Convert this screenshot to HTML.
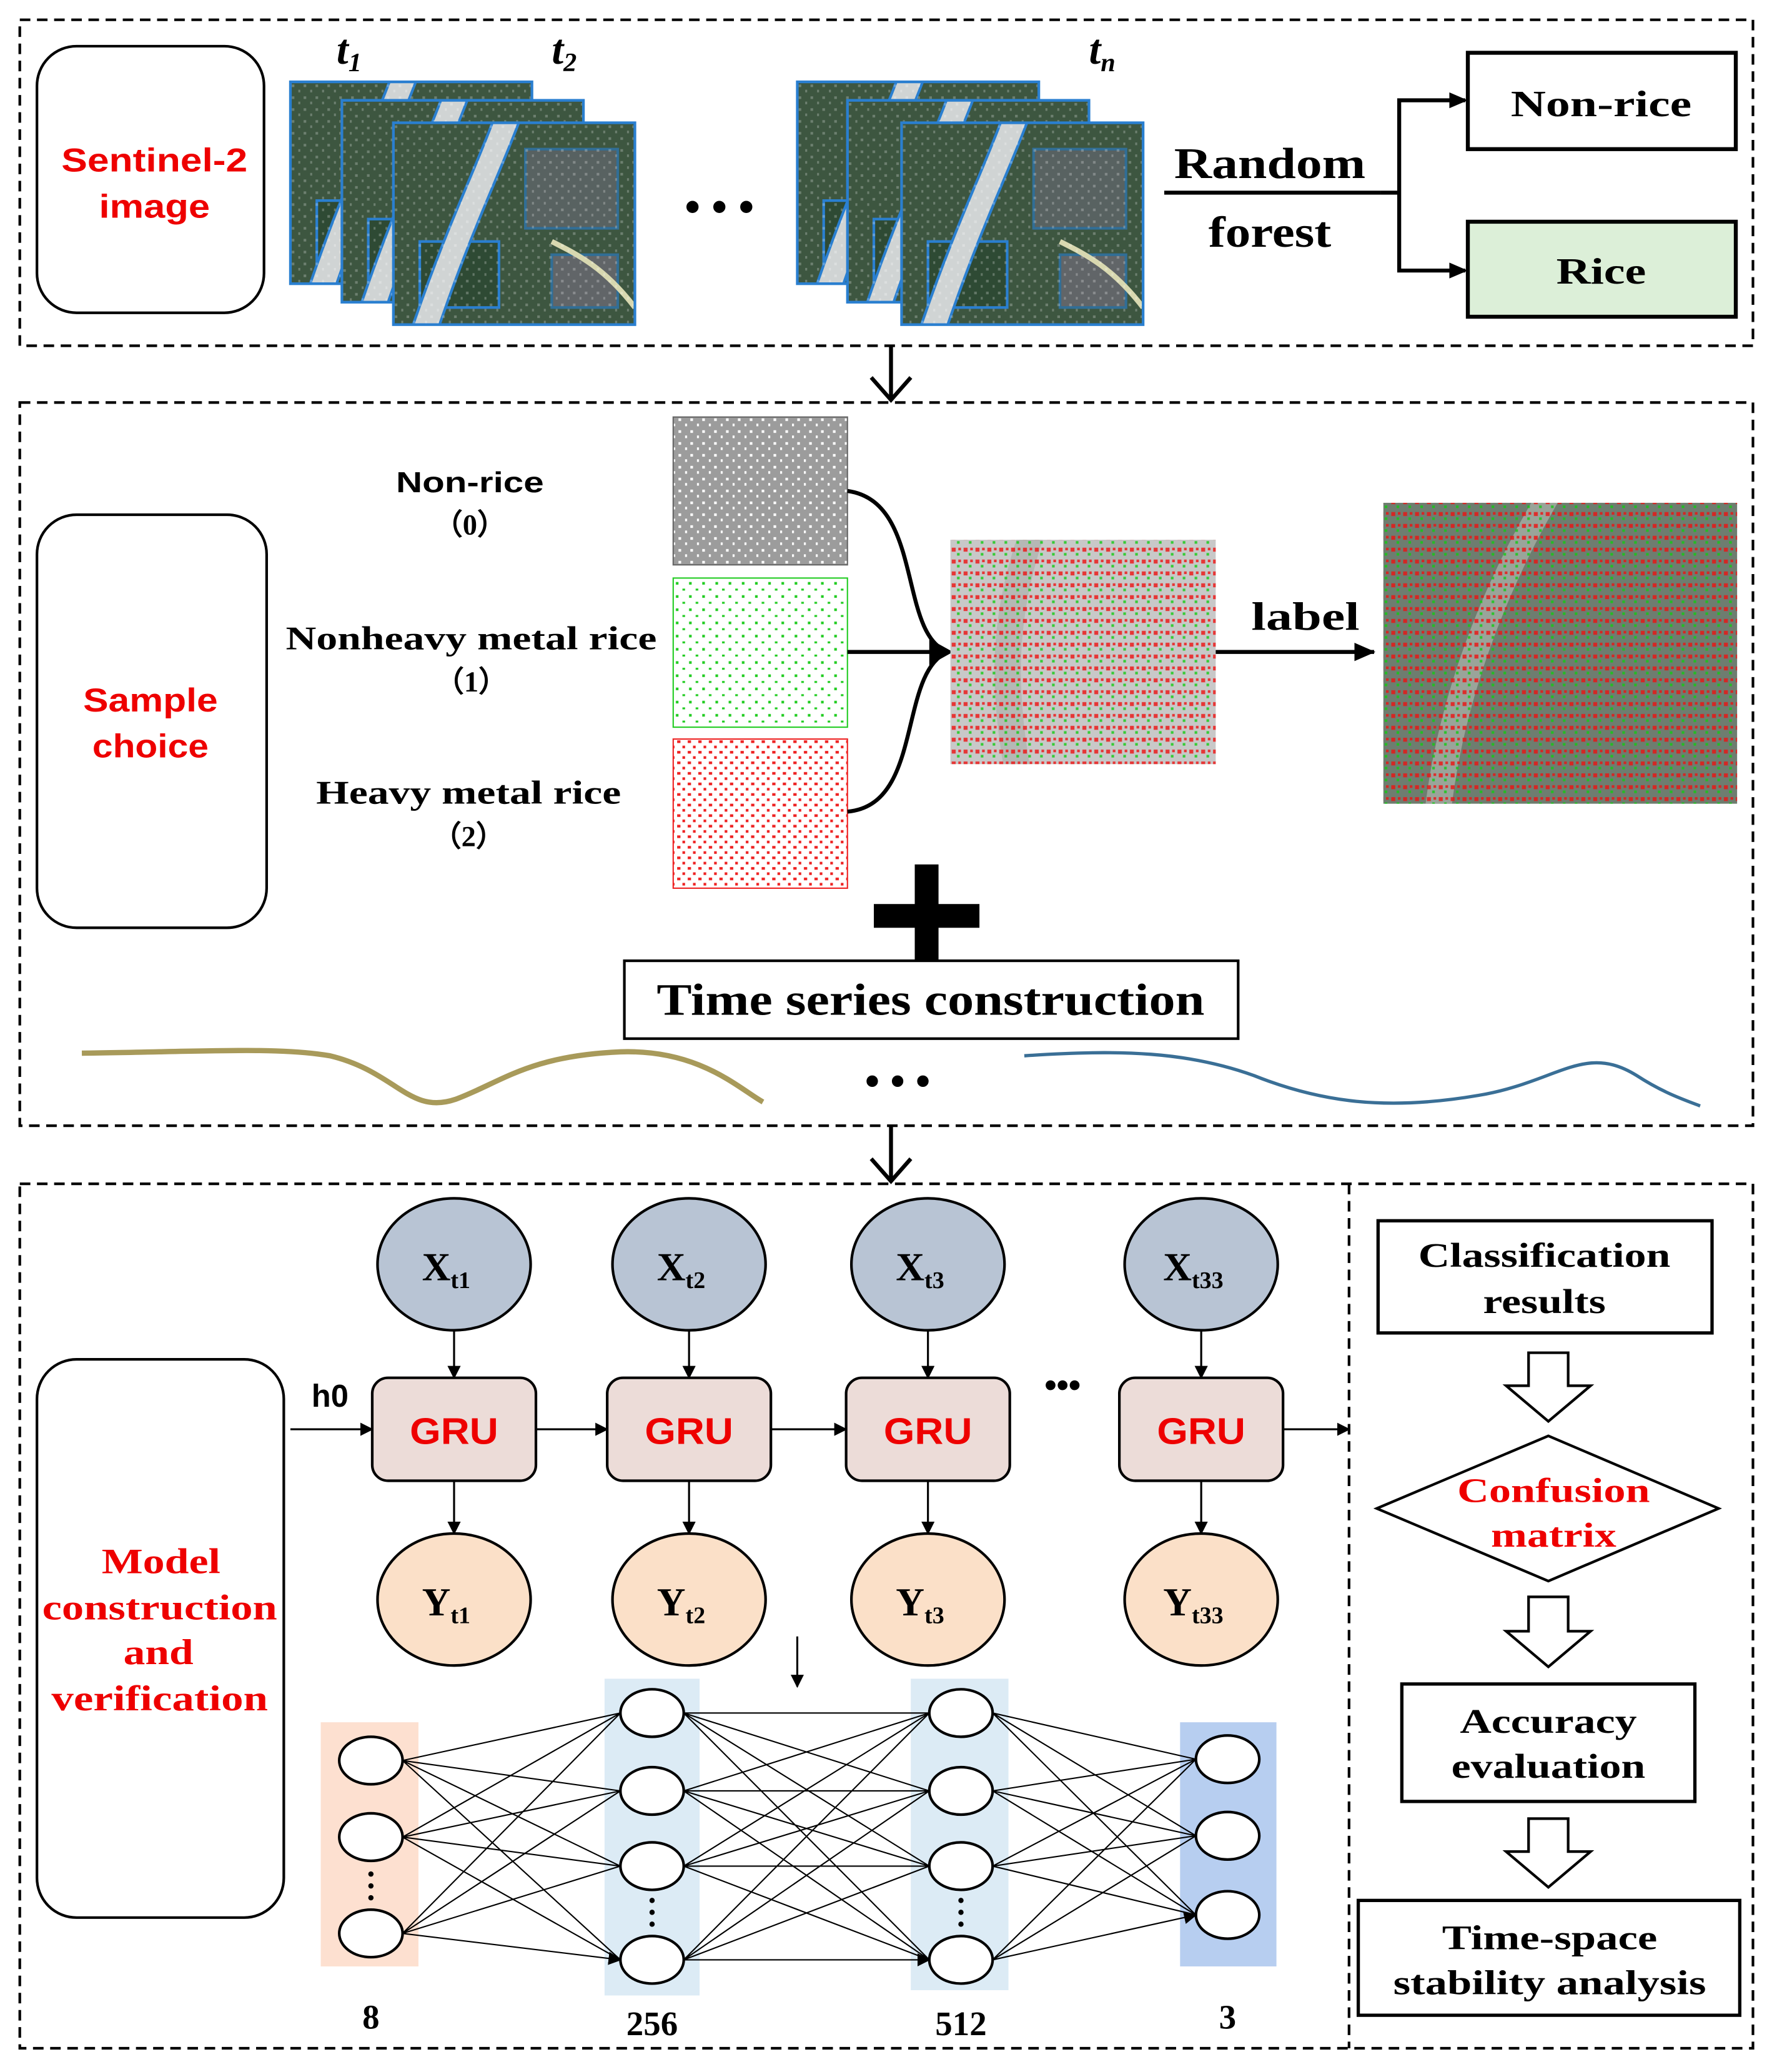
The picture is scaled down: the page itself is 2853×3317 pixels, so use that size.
<!DOCTYPE html>
<html><head><meta charset="utf-8"><style>
html,body{margin:0;padding:0;background:#fff;}
svg{display:block;}
.serif{font-family:"Liberation Serif",serif;font-weight:bold;}
.sans{font-family:"Liberation Sans",sans-serif;font-weight:bold;}
</style></head><body>
<svg width="2853" height="3317" viewBox="0 0 1350 1570" preserveAspectRatio="none" xmlns="http://www.w3.org/2000/svg">
<defs>
<marker id="ah" markerWidth="10" markerHeight="10" refX="9" refY="5" orient="auto" markerUnits="userSpaceOnUse"><path d="M0,0 L10,5 L0,10 z" fill="#000"/></marker>
<marker id="ahb" markerWidth="16" markerHeight="14" refX="15" refY="7" orient="auto" markerUnits="userSpaceOnUse"><path d="M0,0 L16,7 L0,14 z" fill="#000"/></marker>
<pattern id="pw" width="9" height="9" patternUnits="userSpaceOnUse"><rect x="1" y="2" width="2" height="2" fill="#fff"/><rect x="6" y="6" width="1.5" height="2" fill="#fff"/></pattern>
<pattern id="pg" width="10" height="10" patternUnits="userSpaceOnUse"><rect x="2" y="1" width="2" height="2" fill="#2c2"/><rect x="7" y="6" width="2" height="1.5" fill="#2c2"/></pattern>
<pattern id="pr" width="8" height="8" patternUnits="userSpaceOnUse"><rect x="1" y="1" width="2.5" height="2" fill="#e22"/><rect x="5" y="5" width="2" height="2" fill="#e22"/></pattern>
<pattern id="prg" width="9" height="9" patternUnits="userSpaceOnUse"><rect x="1" y="1" width="3" height="3" fill="#e11"/><rect x="5" y="5" width="2" height="2" fill="#1c1"/><rect x="6" y="1" width="2" height="2" fill="#e11"/></pattern>
<symbol id="sat" viewBox="0 0 183 153">
<rect width="183" height="153" fill="#3d5640"/>
<rect x="100" y="20" width="70" height="60" fill="#6a6a78" opacity="0.6"/>
<rect x="20" y="90" width="60" height="50" fill="#2e4a34"/>
<rect x="120" y="100" width="50" height="40" fill="#7a7084" opacity="0.6"/>
<path d="M95,0 C80,40 60,80 35,153 L15,153 C40,80 60,40 75,0 z" fill="#d0d4d4"/>
<path d="M120,90 C140,100 160,110 183,140" stroke="#d8d8b0" stroke-width="4" fill="none"/>
<rect width="183" height="153" fill="url(#pw)" opacity="0.25"/>
</symbol>
</defs>

<g fill="none" stroke="#000" stroke-width="2" stroke-dasharray="8,5">
<rect x="15" y="15" width="1313" height="247"/>
<rect x="15" y="305" width="1313" height="548"/>
<rect x="15" y="897" width="1313" height="655"/>
<line x1="1022" y1="897" x2="1022" y2="1552"/>
</g>

<!-- Section 1 -->
<rect x="28" y="35" width="172" height="202" rx="30" fill="none" stroke="#000" stroke-width="2"/>
<text x="117" y="130" class="sans" font-size="25" fill="#e00" text-anchor="middle" textLength="141" lengthAdjust="spacingAndGlyphs">Sentinel-2</text>
<text x="117" y="165" class="sans" font-size="25" fill="#e00" text-anchor="middle" textLength="84" lengthAdjust="spacingAndGlyphs">image</text>
<g stroke="#2a7fd0" stroke-width="2">
<use href="#sat" x="220" y="62" width="183" height="153"/><rect x="220" y="62" width="183" height="153" fill="none"/>
<use href="#sat" x="259" y="76" width="183" height="153"/><rect x="259" y="76" width="183" height="153" fill="none"/>
<use href="#sat" x="298" y="93" width="183" height="153"/><rect x="298" y="93" width="183" height="153" fill="none"/>
<use href="#sat" x="604" y="62" width="183" height="153"/><rect x="604" y="62" width="183" height="153" fill="none"/>
<use href="#sat" x="642" y="76" width="183" height="153"/><rect x="642" y="76" width="183" height="153" fill="none"/>
<use href="#sat" x="683" y="93" width="183" height="153"/><rect x="683" y="93" width="183" height="153" fill="none"/>
</g>
<text x="255" y="48" class="serif" font-style="italic" font-size="32">t<tspan font-size="20" dy="6">1</tspan></text>
<text x="418" y="48" class="serif" font-style="italic" font-size="32">t<tspan font-size="20" dy="6">2</tspan></text>
<text x="825" y="48" class="serif" font-style="italic" font-size="32">t<tspan font-size="20" dy="6">n</tspan></text>
<text x="545" y="168" class="serif" font-size="34" text-anchor="middle">• • •</text>
<text x="962" y="135" class="serif" font-size="33" text-anchor="middle" textLength="145" lengthAdjust="spacingAndGlyphs">Random</text>
<line x1="882" y1="146" x2="1046" y2="146" stroke="#000" stroke-width="3"/>
<text x="962" y="187" class="serif" font-size="33" text-anchor="middle" textLength="93" lengthAdjust="spacingAndGlyphs">forest</text>
<path d="M1046,146 H1060 V76 H1110 M1060,146 V205 H1110" fill="none" stroke="#000" stroke-width="3"/>
<path d="M1098,70 L1112,76 L1098,82z M1098,199 L1112,205 L1098,211z" fill="#000"/>
<rect x="1112" y="40" width="203" height="73" fill="#fff" stroke="#000" stroke-width="3"/>
<text x="1213" y="88" class="serif" font-size="28" text-anchor="middle" textLength="137" lengthAdjust="spacingAndGlyphs">Non-rice</text>
<rect x="1112" y="168" width="203" height="72" fill="#dcefd8" stroke="#000" stroke-width="3"/>
<text x="1213" y="215" class="serif" font-size="28" text-anchor="middle" textLength="68" lengthAdjust="spacingAndGlyphs">Rice</text>
<path d="M675,262 V303 M660,286 L675,303 L690,286" fill="none" stroke="#000" stroke-width="3"/>

<!-- Section 2 -->
<rect x="28" y="390" width="174" height="313" rx="30" fill="none" stroke="#000" stroke-width="2"/>
<text x="114" y="539" class="sans" font-size="25" fill="#e00" text-anchor="middle" textLength="102" lengthAdjust="spacingAndGlyphs">Sample</text>
<text x="114" y="574" class="sans" font-size="25" fill="#e00" text-anchor="middle" textLength="88" lengthAdjust="spacingAndGlyphs">choice</text>
<text x="356" y="373" class="sans" font-size="22" text-anchor="middle" textLength="112" lengthAdjust="spacingAndGlyphs">Non-rice</text>
<text x="356" y="405" class="serif" font-size="22" text-anchor="middle">（0）</text>
<text x="357" y="492" class="serif" font-size="25" text-anchor="middle" textLength="281" lengthAdjust="spacingAndGlyphs">Nonheavy metal rice</text>
<text x="357" y="524" class="serif" font-size="22" text-anchor="middle">（1）</text>
<text x="355" y="609" class="serif" font-size="25" text-anchor="middle" textLength="231" lengthAdjust="spacingAndGlyphs">Heavy metal rice</text>
<text x="355" y="641" class="serif" font-size="22" text-anchor="middle">（2）</text>
<rect x="510" y="316" width="132" height="112" fill="#9c9c9c"/><rect x="510" y="316" width="132" height="112" fill="url(#pw)" stroke="#666"/>
<rect x="510" y="438" width="132" height="113" fill="#fff"/><rect x="510" y="438" width="132" height="113" fill="url(#pg)" stroke="#2c2"/>
<rect x="510" y="560" width="132" height="113" fill="#fff"/><rect x="510" y="560" width="132" height="113" fill="url(#pr)" stroke="#e22"/>
<path d="M642,372 C700,380 680,480 718,494 M642,494 H718 M642,615 C700,610 680,510 718,494" fill="none" stroke="#000" stroke-width="3"/>
<path d="M704,484 L722,494 L704,504z" fill="#000"/>
<rect x="720" y="409" width="201" height="170" fill="#c8c8c8"/>
<path d="M790,409 C770,470 770,520 780,579 L760,579 C750,520 750,470 770,409z" fill="#b5b8b5"/>
<rect x="720" y="409" width="201" height="170" fill="url(#prg)" opacity="0.8"/>
<line x1="921" y1="494" x2="1041" y2="494" stroke="#000" stroke-width="3" marker-end="url(#ahb)"/>
<text x="989" y="477" class="serif" font-size="30" text-anchor="middle" textLength="82" lengthAdjust="spacingAndGlyphs">label</text>
<rect x="1048" y="381" width="268" height="228" fill="#6e7d70"/>
<path d="M1180,381 C1140,450 1110,530 1100,609 L1080,609 C1090,530 1120,450 1160,381z" fill="#9aa49a"/>
<rect x="1048" y="381" width="268" height="228" fill="url(#prg)" opacity="0.8"/>
<rect x="662" y="685" width="80" height="18" fill="#000"/>
<rect x="693" y="655" width="18" height="78" fill="#000"/>
<rect x="473" y="728" width="465" height="59" fill="#fff" stroke="#000" stroke-width="2"/>
<text x="705" y="769" class="serif" font-size="34" text-anchor="middle" textLength="415" lengthAdjust="spacingAndGlyphs">Time series construction</text>
<path d="M62,798 C150,797 210,793 250,800 C300,812 310,845 345,833 C380,820 400,800 470,797 C530,795 560,825 578,835" fill="none" stroke="#a89a5a" stroke-width="4"/>
<text x="680" y="830" class="serif" font-size="32" text-anchor="middle">• • •</text>
<path d="M776,800 C850,795 900,797 950,815 C1000,835 1050,842 1120,830 C1180,820 1200,790 1240,815 C1260,828 1275,833 1288,838" fill="none" stroke="#3a6f96" stroke-width="2.5"/>
<path d="M675,853 V895 M660,878 L675,895 L690,878" fill="none" stroke="#000" stroke-width="3"/>

<!-- Section 3 -->
<rect x="28" y="1030" width="187" height="423" rx="30" fill="none" stroke="#000" stroke-width="2"/>
<g class="serif" font-size="27" fill="#e00" text-anchor="middle">
<text x="122" y="1192" textLength="90" lengthAdjust="spacingAndGlyphs">Model</text>
<text x="121" y="1227" textLength="178" lengthAdjust="spacingAndGlyphs">construction</text>
<text x="120" y="1261" textLength="53" lengthAdjust="spacingAndGlyphs">and</text>
<text x="121" y="1296" textLength="164" lengthAdjust="spacingAndGlyphs">verification</text></g>
<g stroke="#000" stroke-width="2">
<ellipse cx="344" cy="958" rx="58" ry="50" fill="#b8c4d4"/>
<ellipse cx="522" cy="958" rx="58" ry="50" fill="#b8c4d4"/>
<ellipse cx="703" cy="958" rx="58" ry="50" fill="#b8c4d4"/>
<ellipse cx="910" cy="958" rx="58" ry="50" fill="#b8c4d4"/>
<ellipse cx="344" cy="1212" rx="58" ry="50" fill="#fbe0c8"/>
<ellipse cx="522" cy="1212" rx="58" ry="50" fill="#fbe0c8"/>
<ellipse cx="703" cy="1212" rx="58" ry="50" fill="#fbe0c8"/>
<ellipse cx="910" cy="1212" rx="58" ry="50" fill="#fbe0c8"/>
<rect x="282" y="1044" width="124" height="78" rx="12" fill="#ecdcd8"/>
<rect x="460" y="1044" width="124" height="78" rx="12" fill="#ecdcd8"/>
<rect x="641" y="1044" width="124" height="78" rx="12" fill="#ecdcd8"/>
<rect x="848" y="1044" width="124" height="78" rx="12" fill="#ecdcd8"/>
</g>
<g class="serif" font-size="30" text-anchor="middle">
<text x="338" y="970">X<tspan font-size="18" dy="6">t1</tspan></text>
<text x="516" y="970">X<tspan font-size="18" dy="6">t2</tspan></text>
<text x="697" y="970">X<tspan font-size="18" dy="6">t3</tspan></text>
<text x="904" y="970">X<tspan font-size="18" dy="6">t33</tspan></text>
<text x="338" y="1224">Y<tspan font-size="18" dy="6">t1</tspan></text>
<text x="516" y="1224">Y<tspan font-size="18" dy="6">t2</tspan></text>
<text x="697" y="1224">Y<tspan font-size="18" dy="6">t3</tspan></text>
<text x="904" y="1224">Y<tspan font-size="18" dy="6">t33</tspan></text>
</g>
<g class="sans" font-size="28" fill="#e00" text-anchor="middle">
<text x="344" y="1094" textLength="67" lengthAdjust="spacingAndGlyphs">GRU</text><text x="522" y="1094" textLength="67" lengthAdjust="spacingAndGlyphs">GRU</text><text x="703" y="1094" textLength="67" lengthAdjust="spacingAndGlyphs">GRU</text><text x="910" y="1094" textLength="67" lengthAdjust="spacingAndGlyphs">GRU</text></g>
<g stroke="#000" stroke-width="1.5" marker-end="url(#ah)">
<line x1="344" y1="1008" x2="344" y2="1044"/><line x1="522" y1="1008" x2="522" y2="1044"/><line x1="703" y1="1008" x2="703" y2="1044"/><line x1="910" y1="1008" x2="910" y2="1044"/>
<line x1="344" y1="1122" x2="344" y2="1162"/><line x1="522" y1="1122" x2="522" y2="1162"/><line x1="703" y1="1122" x2="703" y2="1162"/><line x1="910" y1="1122" x2="910" y2="1162"/>
<line x1="220" y1="1083" x2="282" y2="1083"/><line x1="406" y1="1083" x2="460" y2="1083"/><line x1="584" y1="1083" x2="641" y2="1083"/><line x1="972" y1="1083" x2="1022" y2="1083"/>
<line x1="604" y1="1240" x2="604" y2="1278"/>
</g>
<text x="250" y="1066" class="sans" font-size="24" text-anchor="middle">h0</text>
<text x="805" y="1058" class="sans" font-size="26" text-anchor="middle">•••</text>

<rect x="243" y="1305" width="74" height="185" fill="#fde0d0"/>
<rect x="458" y="1272" width="72" height="240" fill="#dcebf5"/>
<rect x="690" y="1272" width="74" height="236" fill="#dcebf5"/>
<rect x="894" y="1305" width="73" height="185" fill="#b7cef0"/>
<g stroke="#000" stroke-width="1" marker-end="url(#ah)">
<path d="M305,1334 L470,1298 M305,1334 L470,1357 M305,1334 L470,1414 M305,1334 L470,1485 M305,1392 L470,1298 M305,1392 L470,1357 M305,1392 L470,1414 M305,1392 L470,1485 M305,1465 L470,1298 M305,1465 L470,1357 M305,1465 L470,1414 M305,1465 L470,1485"/>
<path d="M518,1298 L704,1298 M518,1298 L704,1357 M518,1298 L704,1414 M518,1298 L704,1485 M518,1357 L704,1298 M518,1357 L704,1357 M518,1357 L704,1414 M518,1357 L704,1485 M518,1414 L704,1298 M518,1414 L704,1357 M518,1414 L704,1414 M518,1414 L704,1485 M518,1485 L704,1298 M518,1485 L704,1357 M518,1485 L704,1414 M518,1485 L704,1485"/>
<path d="M752,1298 L906,1333 M752,1298 L906,1391 M752,1298 L906,1451 M752,1357 L906,1333 M752,1357 L906,1391 M752,1357 L906,1451 M752,1414 L906,1333 M752,1414 L906,1391 M752,1414 L906,1451 M752,1485 L906,1333 M752,1485 L906,1391 M752,1485 L906,1451"/>
</g>
<g fill="#fff" stroke="#000" stroke-width="2">
<ellipse cx="281" cy="1334" rx="24" ry="18"/><ellipse cx="281" cy="1392" rx="24" ry="18"/><ellipse cx="281" cy="1465" rx="24" ry="18"/>
<ellipse cx="494" cy="1298" rx="24" ry="18"/><ellipse cx="494" cy="1357" rx="24" ry="18"/><ellipse cx="494" cy="1414" rx="24" ry="18"/><ellipse cx="494" cy="1485" rx="24" ry="18"/>
<ellipse cx="728" cy="1298" rx="24" ry="18"/><ellipse cx="728" cy="1357" rx="24" ry="18"/><ellipse cx="728" cy="1414" rx="24" ry="18"/><ellipse cx="728" cy="1485" rx="24" ry="18"/>
<ellipse cx="930" cy="1333" rx="24" ry="18"/><ellipse cx="930" cy="1391" rx="24" ry="18"/><ellipse cx="930" cy="1451" rx="24" ry="18"/>
</g>
<g fill="#000"><circle cx="281" cy="1420" r="2"/><circle cx="281" cy="1429" r="2"/><circle cx="281" cy="1438" r="2"/>
<circle cx="494" cy="1440" r="2"/><circle cx="494" cy="1449" r="2"/><circle cx="494" cy="1458" r="2"/>
<circle cx="728" cy="1440" r="2"/><circle cx="728" cy="1449" r="2"/><circle cx="728" cy="1458" r="2"/></g>
<g class="serif" font-size="26" text-anchor="middle">
<text x="281" y="1537">8</text><text x="494" y="1542">256</text><text x="728" y="1542">512</text><text x="930" y="1537">3</text></g>

<rect x="1044" y="925" width="253" height="85" fill="#fff" stroke="#000" stroke-width="2.5"/>
<text x="1170" y="960" class="serif" font-size="26" text-anchor="middle" textLength="191" lengthAdjust="spacingAndGlyphs">Classification</text>
<text x="1170" y="995" class="serif" font-size="26" text-anchor="middle" textLength="93" lengthAdjust="spacingAndGlyphs">results</text>
<g fill="#fff" stroke="#000" stroke-width="2">
<path d="M1158,1025 H1188 V1050 H1205 L1173,1077 L1141,1050 H1158z"/>
<path d="M1158,1210 H1188 V1236 H1205 L1173,1263 L1141,1236 H1158z"/>
<path d="M1158,1378 H1188 V1403 H1205 L1173,1430 L1141,1403 H1158z"/>
</g>
<path d="M1043,1143 L1173,1088 L1302,1143 L1173,1198z" fill="#fff" stroke="#000" stroke-width="2"/>
<text x="1177" y="1138" class="serif" font-size="26" fill="#e00" text-anchor="middle" textLength="146" lengthAdjust="spacingAndGlyphs">Confusion</text>
<text x="1177" y="1172" class="serif" font-size="26" fill="#e00" text-anchor="middle" textLength="95" lengthAdjust="spacingAndGlyphs">matrix</text>
<rect x="1062" y="1276" width="222" height="89" fill="#fff" stroke="#000" stroke-width="2.5"/>
<text x="1173" y="1313" class="serif" font-size="26" text-anchor="middle" textLength="134" lengthAdjust="spacingAndGlyphs">Accuracy</text>
<text x="1173" y="1347" class="serif" font-size="26" text-anchor="middle" textLength="147" lengthAdjust="spacingAndGlyphs">evaluation</text>
<rect x="1029" y="1440" width="289" height="87" fill="#fff" stroke="#000" stroke-width="2.5"/>
<text x="1174" y="1477" class="serif" font-size="26" text-anchor="middle" textLength="163" lengthAdjust="spacingAndGlyphs">Time-space</text>
<text x="1174" y="1511" class="serif" font-size="26" text-anchor="middle" textLength="237" lengthAdjust="spacingAndGlyphs">stability analysis</text>
</svg>
</body></html>
